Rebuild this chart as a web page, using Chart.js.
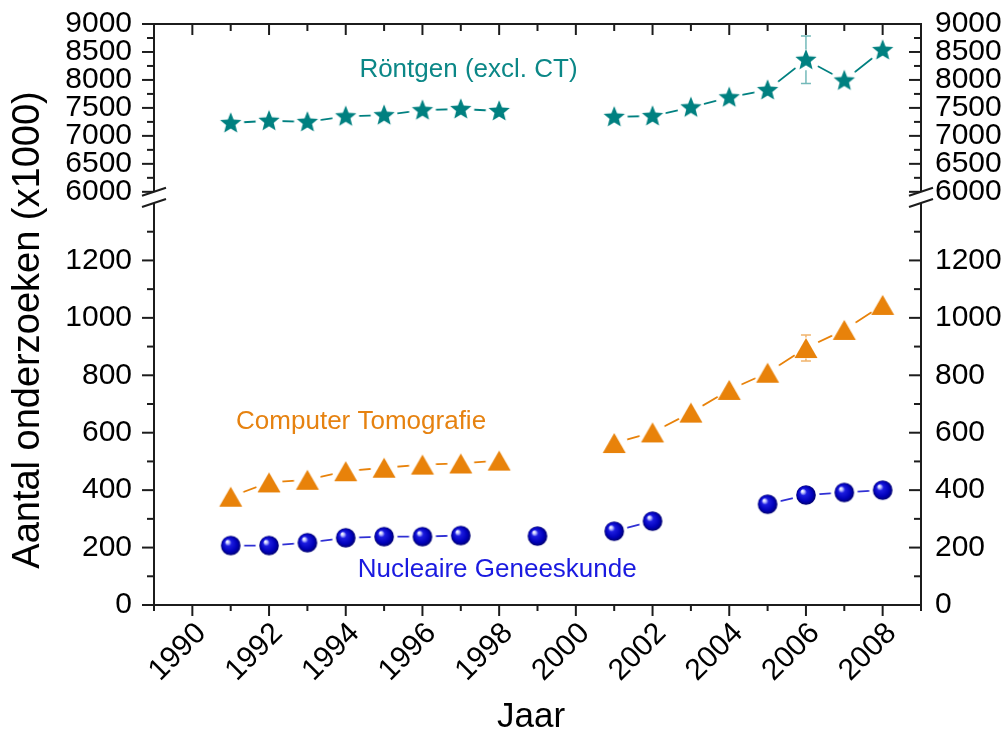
<!DOCTYPE html>
<html>
<head>
<meta charset="utf-8">
<script src="https://cdn.jsdelivr.net/npm/chart.js@4/dist/chart.umd.min.js"></script>
<style>
  html, body { margin: 0; padding: 0; background: #fff; }
  #wrap { width: 1007px; height: 731px; }
</style>
</head>
<body>
<div id="wrap"><canvas id="chart" width="1007" height="731"></canvas></div>
<script>
// Jaarlijkse aantallen onderzoeken (x1000) per modaliteit
const years = [1991, 1992, 1993, 1994, 1995, 1996, 1997, 1998, 1999, 2000,
               2001, 2002, 2003, 2004, 2005, 2006, 2007, 2008];
const rontgen = [7230, 7270, 7250, 7350, 7370, 7460, 7480, 7445, null, null,
                 7340, 7355, 7510, 7690, 7820, 8360, 7990, 8535];
const rontgenErr = [null, null, null, null, null, null, null, null, null, null,
                    null, null, null, null, null, 425, null, null];
const ct = [377, 427, 436, 466, 478, 489, 493, 503, null, null,
            564, 601, 670, 749, 809, 895, 958, 1045];
const ctErr = [null, null, null, null, null, null, null, null, null, null,
               null, null, null, null, null, 45, null, null];
const ng = [207, 207, 217, 234, 238, 238, 242, null, 240, null,
            257, 292, null, null, 351, 383, 392, 400];

// As-indeling
const xTickYears = [1990, 1992, 1994, 1996, 1998, 2000, 2002, 2004, 2006, 2008];
const upperTicks = [6000, 6500, 7000, 7500, 8000, 8500, 9000];
const lowerTicks = [0, 200, 400, 600, 800, 1000, 1200];

const TEAL = '#008080';
const ORANGE = '#e8820a';
const FONT = "'Liberation Sans', Arial, Helvetica, sans-serif";

// Symbolen met een witte rand zodat de verbindingslijn vóór het symbool stopt
const HALO = 13.5;
function symbolCanvas(drawShape) {
  const size = 30;
  const c = document.createElement('canvas');
  c.width = size; c.height = size;
  const g = c.getContext('2d');
  const m = size / 2;
  g.fillStyle = '#fff';
  g.beginPath(); g.arc(m, m, HALO, 0, Math.PI * 2); g.fill();
  drawShape(g, m);
  return c;
}
const starSymbol = symbolCanvas((g, m) => {
  const R = 11.2, r = 4.9;
  g.beginPath();
  for (let k = 0; k < 10; k++) {
    const a = -Math.PI / 2 + k * Math.PI / 5;
    const rad = k % 2 === 0 ? R : r;
    const px = m + rad * Math.cos(a), py = m + 0.5 + rad * Math.sin(a);
    if (k === 0) g.moveTo(px, py); else g.lineTo(px, py);
  }
  g.closePath();
  g.fillStyle = TEAL;
  g.fill();
});
const triangleSymbol = symbolCanvas((g, m) => {
  const w = 23, h = 20;
  g.beginPath();
  g.moveTo(m, m - h / 2);
  g.lineTo(m + w / 2, m + h / 2);
  g.lineTo(m - w / 2, m + h / 2);
  g.closePath();
  g.fillStyle = ORANGE;
  g.fill();
});
const sphereSymbol = symbolCanvas((g, m) => {
  const r = 9.8;
  const grad = g.createRadialGradient(m - 0.38 * r, m - 0.42 * r, 0.4, m, m, r);
  grad.addColorStop(0, '#ffffff');
  grad.addColorStop(0.14, '#b8bcff');
  grad.addColorStop(0.32, '#1c1ce0');
  grad.addColorStop(0.75, '#0000b8');
  grad.addColorStop(1, '#00006e');
  g.beginPath(); g.arc(m, m, r, 0, Math.PI * 2);
  g.fillStyle = grad;
  g.fill();
});

const toPoints = vals => years.map((yr, i) => ({ x: yr, y: vals[i] }));

// Teksten in de grafiek, gepositioneerd in data-coördinaten
const seriesLabels = [
  { text: 'Röntgen (excl. CT)', x: 1997.2, y: 8180, axis: 'yTop', color: '#0b8787' },
  { text: 'Computer Tomografie', x: 1994.4, y: 637, axis: 'yBot', color: '#e68210' },
  { text: 'Nucleaire Geneeskunde', x: 1997.95, y: 122, axis: 'yBot', color: '#1a1ae0' }
];

const axisDecor = {
  id: 'axisDecor',
  beforeDatasetsDraw(chart) {
    const { ctx, chartArea: { left: L, right: R, top: T, bottom: B } } = chart;
    const s = chart.scales;
    const line = (x1, y1, x2, y2) => { ctx.beginPath(); ctx.moveTo(x1, y1); ctx.lineTo(x2, y2); ctx.stroke(); };
    ctx.save();
    ctx.strokeStyle = '#1c1c1c';
    ctx.lineWidth = 2;
    ctx.lineCap = 'butt';
    // kader
    line(L - 1, T, R + 1, T);
    line(L - 1, B, R + 1, B);
    line(L, T, L, B);
    line(R, T, R, B);
    // jaartal-streepjes: onder naar buiten, boven naar binnen
    for (let yr = s.x.min; yr <= s.x.max; yr++) {
      const px = s.x.getPixelForValue(yr);
      const major = yr % 2 === 0;
      line(px, B, px, B + (major ? 11 : 6));
      line(px, T, px, T + (major ? 11 : 7));
    }
    // bovenste deel van de y-as
    for (let v = 6000; v <= 9000; v += 250) {
      const py = s.yTop.getPixelForValue(v);
      const major = v % 500 === 0;
      line(L - (major ? 12 : 7), py, L, py);
      line(R - (major ? 12 : 7), py, R, py);
    }
    // onderste deel van de y-as
    for (let v = 0; v <= 1300; v += 100) {
      const py = s.yBot.getPixelForValue(v);
      const major = v % 200 === 0;
      line(L - (major ? 12 : 7), py, L, py);
      line(R - (major ? 12 : 7), py, R, py);
    }
    // asonderbreking
    const yb1 = s.yTop.getPixelForValue(6000);
    const yb2 = s.yBot.getPixelForValue(1400);
    const dx = 12, dy = 4;
    for (const x of [L, R]) {
      ctx.fillStyle = '#fff';
      ctx.beginPath();
      ctx.moveTo(x - dx, yb1 + dy); ctx.lineTo(x + dx, yb1 - dy);
      ctx.lineTo(x + dx, yb2 - dy); ctx.lineTo(x - dx, yb2 + dy);
      ctx.closePath(); ctx.fill();
      line(x - dx, yb1 + dy, x + dx, yb1 - dy);
      line(x - dx, yb2 + dy, x + dx, yb2 - dy);
    }
    ctx.restore();
  },
  afterDatasetsDraw(chart) {
    const { ctx } = chart;
    const s = chart.scales;
    const bars = [
      { vals: rontgen, errs: rontgenErr, axis: 'yTop', color: 'rgba(0,128,128,0.55)' },
      { vals: ct, errs: ctErr, axis: 'yBot', color: 'rgba(232,130,10,0.6)' }
    ];
    ctx.save();
    ctx.lineWidth = 1.5;
    for (const b of bars) {
      years.forEach((yr, i) => {
        if (b.errs[i] == null || b.vals[i] == null) return;
        const px = s.x.getPixelForValue(yr);
        const pc = s[b.axis].getPixelForValue(b.vals[i]);
        const p1 = s[b.axis].getPixelForValue(b.vals[i] + b.errs[i]);
        const p2 = s[b.axis].getPixelForValue(b.vals[i] - b.errs[i]);
        ctx.strokeStyle = b.color;
        const gap = 10.5;
        ctx.beginPath();
        if (pc - p1 > gap) { ctx.moveTo(px, p1); ctx.lineTo(px, pc - gap); }
        if (p2 - pc > gap) { ctx.moveTo(px, pc + gap); ctx.lineTo(px, p2); }
        ctx.moveTo(px - 5, p1); ctx.lineTo(px + 5, p1);
        ctx.moveTo(px - 5, p2); ctx.lineTo(px + 5, p2);
        ctx.stroke();
      });
    }
    ctx.restore();
  },
  afterDraw(chart) {
    const { ctx } = chart;
    const s = chart.scales;
    ctx.save();
    ctx.textAlign = 'center';
    ctx.textBaseline = 'middle';
    ctx.font = `26px ${FONT}`;
    for (const lbl of seriesLabels) {
      ctx.fillStyle = lbl.color;
      ctx.fillText(lbl.text, s.x.getPixelForValue(lbl.x), s[lbl.axis].getPixelForValue(lbl.y));
    }
    // astitels
    ctx.fillStyle = '#000';
    ctx.textBaseline = 'alphabetic';
    ctx.font = `35px ${FONT}`;
    ctx.fillText('Jaar', 531, 727);
    ctx.translate(39, 330);
    ctx.rotate(-Math.PI / 2);
    ctx.font = `38px ${FONT}`;
    ctx.fillText('Aantal onderzoeken (x1000)', 0, 0);
    ctx.restore();
  }
};

const tickFont = { family: FONT, size: 30 };
function yAxis(position, stack, stackWeight, weight, min, max, tickValues, padding) {
  return {
    type: 'linear', position, stack, stackWeight, weight, min, max,
    grid: { display: false, drawTicks: false },
    border: { display: false },
    afterBuildTicks: sc => { sc.ticks = tickValues.map(v => ({ value: v })); },
    afterFit: sc => {
      sc.width = position === 'left' ? 154 : 86;
      sc.paddingTop = 0; sc.paddingBottom = 0;
    },
    ticks: { font: tickFont, color: '#000', padding, autoSkip: false, callback: v => String(v) }
  };
}

function seriesDataset(label, vals, color, symbol, axis) {
  return {
    label, data: toPoints(vals), yAxisID: axis, xAxisID: 'x',
    borderColor: color, borderWidth: 1.8, backgroundColor: color,
    pointStyle: symbol, pointRadius: 11, pointHoverRadius: 11,
    tension: 0, spanGaps: false, clip: false
  };
}

new Chart(document.getElementById('chart'), {
  type: 'line',
  data: {
    datasets: [
      seriesDataset('Röntgen (excl. CT)', rontgen, TEAL, starSymbol, 'yTop'),
      seriesDataset('Computer Tomografie', ct, ORANGE, triangleSymbol, 'yBot'),
      seriesDataset('Nucleaire Geneeskunde', ng, '#3030d4', sphereSymbol, 'yBot')
    ]
  },
  options: {
    responsive: false,
    animation: false,
    devicePixelRatio: 1,
    layout: { padding: { top: 24, left: 0, right: 0, bottom: 0 } },
    plugins: { legend: { display: false }, tooltip: { enabled: false } },
    scales: {
      x: {
        type: 'linear', position: 'bottom', min: 1989, max: 2009,
        grid: { display: false, drawTicks: false },
        border: { display: false },
        afterBuildTicks: sc => { sc.ticks = xTickYears.map(v => ({ value: v })); },
        afterFit: sc => {
          sc.height = 731 - 605;
          sc.paddingLeft = 0; sc.paddingRight = 0;
        },
        ticks: {
          font: tickFont, color: '#000', autoSkip: false,
          minRotation: 45, maxRotation: 45, padding: 11, labelOffset: 9,
          callback: v => String(v)
        }
      },
      yTop: yAxis('left', 'links', 179, 1, 5800, 9000, upperTicks, 22),
      yBot: yAxis('left', 'links', 402, 0, 0, 1400, lowerTicks, 22),
      yTopR: yAxis('right', 'rechts', 179, 0, 5800, 9000, upperTicks, 14),
      yBotR: yAxis('right', 'rechts', 402, 1, 0, 1400, lowerTicks, 14)
    }
  },
  plugins: [axisDecor]
});
</script>
</body>
</html>
